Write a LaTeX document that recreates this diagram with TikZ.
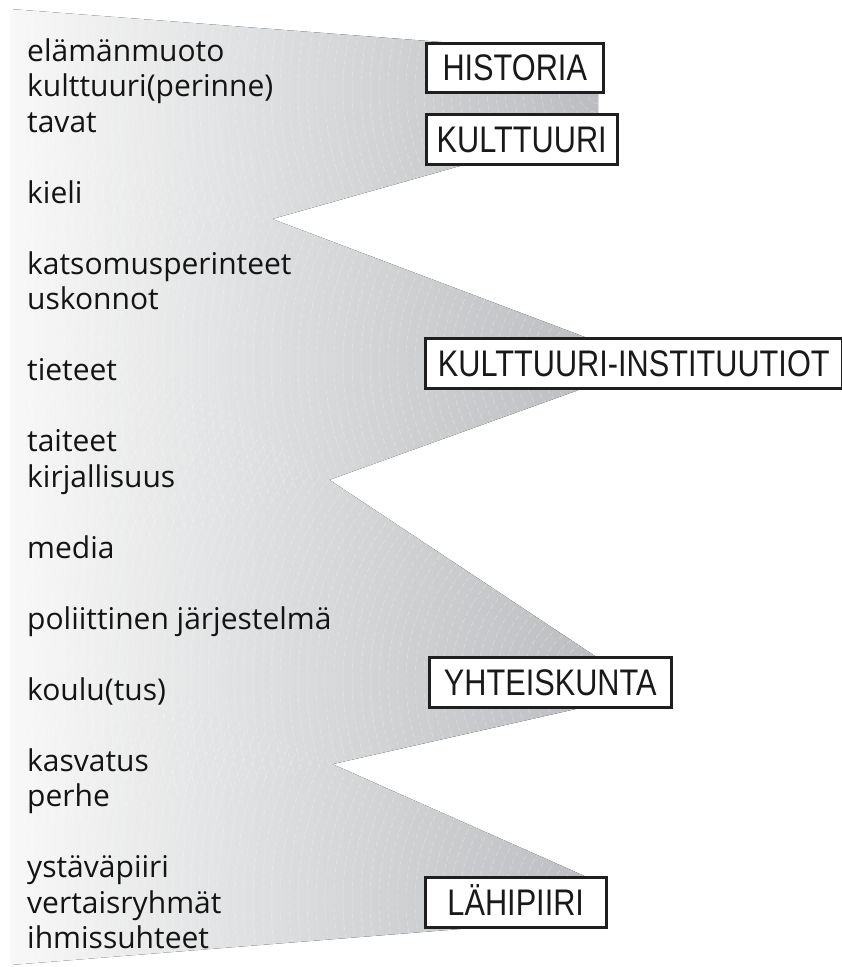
\documentclass[tikz,border=0pt]{standalone}
\usepackage{fontspec}
\setmainfont{Open Sans}
\newfontfamily\boxfont{Liberation Sans}[FakeStretch=0.83]
\usepackage{xcolor}
\usetikzlibrary{positioning}
\definecolor{fanlight}{HTML}{F8F8F8}
\definecolor{fandark}{HTML}{BBBDC0}
\tikzset{
  listitem/.style={anchor=base west,inner sep=0pt,text=black!92,
    font=\fontsize{30}{35.5}\selectfont},
  catbox/.style={draw=black!88,line width=2.5pt,fill=white,anchor=north west,
    inner xsep=4pt,inner ysep=0pt,text height=26pt,text depth=0pt,text=black!90,
    font=\boxfont\fontsize{37}{42}\selectfont},
  fanshade/.style={left color=fanlight,right color=fandark},
  fanlines/.style={draw=white,line width=0.5pt,dash pattern=on 5pt off 3pt,opacity=0.35}
}

\begin{document}
\begin{tikzpicture}[x=1pt,y=-1pt]
  \useasboundingbox (0,0) rectangle (842,967);

  % corners of the four wedges
  \coordinate (a1) at (10,9);    \coordinate (a2) at (598,54);
  \coordinate (a3) at (598,127); \coordinate (a4) at (10,293);
  \coordinate (b1) at (10,120);  \coordinate (b2) at (598,342);
  \coordinate (b3) at (598,383); \coordinate (b4) at (10,595);
  \coordinate (c1) at (10,268);  \coordinate (c2) at (598,658);
  \coordinate (c3) at (598,704); \coordinate (c4) at (10,837);
  \coordinate (d1) at (10,621);  \coordinate (d2) at (598,882);
  \coordinate (d3) at (598,918); \coordinate (d4) at (10,965);
  \coordinate (n1) at (intersection of a3--a4 and b1--b2);
  \coordinate (n2) at (intersection of b3--b4 and c1--c2);
  \coordinate (n3) at (intersection of c3--c4 and d1--d2);

  % one shading for the whole fan
  \fill[fanshade] (a1) -- (a2) -- (a3) -- (n1) -- (b2) -- (b3) -- (n2)
    -- (c2) -- (c3) -- (n3) -- (d2) -- (d3) -- (d4) -- cycle;
  \foreach \w/\cx/\cy in {d/600/900,c/600/681,b/600/362,a/600/90}{
    \begin{scope}
      \clip (\w1) -- (\w2) -- (\w3) -- (\w4) -- cycle;
      \foreach \r in {14,23,...,640}
        \draw[fanlines] (\cx,\cy) circle[radius=\r];
    \end{scope}
  }

  % left column
  \foreach \txt/\yb [count=\i] in {
      elämänmuoto/61, kulttuuri(perinne)/96.5, tavat/132, kieli/203,
      katsomusperinteet/274, uskonnot/309.5, tieteet/380.5, taiteet/451.5,
      kirjallisuus/487, media/558, poliittinen järjestelmä/629,
      koulu(tus)/700, kasvatus/771, perhe/806.5, ystäväpiiri/877.5,
      vertaisryhmät/913, ihmissuhteet/948.5}
    \node[listitem] (item\i) at (27,\yb) {\txt};

  % category boxes
  \node[catbox,minimum width=177pt,minimum height=49pt] (historia) at (425,42) {HISTORIA};
  \node[catbox,minimum width=191pt,minimum height=50pt] (kulttuuri) at (425,113) {KULTTUURI};
  \node[catbox,minimum width=417pt,minimum height=50pt] (instituutiot) at (424,337) {KULTTUURI-INSTITUUTIOT};
  \node[catbox,minimum width=242pt,minimum height=50pt] (yhteiskunta) at (428,656) {YHTEISKUNTA};
  \node[catbox,minimum width=181pt,minimum height=50pt] (lahipiiri) at (424,876) {LÄHIPIIRI};
\end{tikzpicture}
\end{document}
